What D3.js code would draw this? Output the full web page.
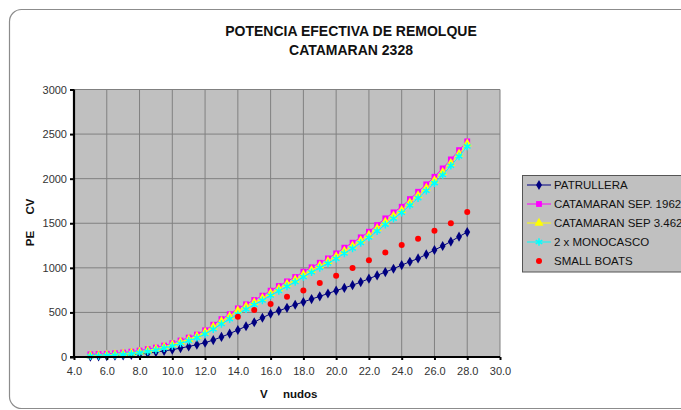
<!DOCTYPE html>
<html><head><meta charset="utf-8">
<script src="https://cdn.jsdelivr.net/npm/d3@7"></script>
<style>body{margin:0;background:#fff}svg{display:block;font-family:"Liberation Sans",Arial,sans-serif}</style>
</head><body><svg id="c" width="681" height="410"></svg>
<script>
const title1 = "POTENCIA EFECTIVA DE REMOLQUE";
const title2 = "CATAMARAN 2328";
const xTicks = [4,6,8,10,12,14,16,18,20,22,24,26,28,30];
const yTicks = [0,500,1000,1500,2000,2500,3000];
const speeds = [5,5.5,6,6.5,7,7.5,8,8.5,9,9.5,10,10.5,11,11.5,12,12.5,13,13.5,14,14.5,15,15.5,16,16.5,17,17.5,18,18.5,19,19.5,20,20.5,21,21.5,22,22.5,23,23.5,24,24.5,25,25.5,26,26.5,27,27.5,28];
const patrullera = [5,8,10,14,18,24,32,42,55,68,82,100,118,138,160,190,225,262,303,345,390,440,485,518,552,586,617,650,680,712,744,775,805,840,878,915,952,990,1031,1068,1105,1150,1200,1245,1295,1350,1401];
const catSep1962 = [30,33,36,42,50,60,72,88,106,128,155,185,218,252,300,362,425,480,546,591,639,688,744,796,848,897,957,1006,1057,1106,1162,1226,1282,1342,1405,1480,1555,1622,1685,1771,1853,1936,2021,2115,2216,2320,2418];
const catSep3462 = [15,18,22,28,35,45,57,72,90,112,138,167,198,232,278,338,400,455,520,566,612,660,715,766,818,866,924,974,1024,1073,1128,1190,1246,1305,1368,1442,1515,1582,1645,1730,1812,1894,1980,2072,2174,2278,2392];
const monocasco = [8,11,15,20,27,36,48,62,79,100,124,152,182,215,258,312,370,425,480,535,585,635,690,740,792,842,898,950,1000,1050,1102,1162,1218,1278,1340,1412,1485,1552,1618,1700,1782,1864,1950,2042,2144,2250,2362];
const sbSpeeds = [14,15,16,17,18,19,20,21,22,23,24,25,26,27,28];
const smallBoats = [452,527,594,676,747,829,911,998,1084,1173,1256,1327,1416,1499,1625];

const svg = d3.select("#c");
// chart frame
svg.append("rect").attr("x",9.5).attr("y",9.5).attr("width",700).attr("height",399).attr("rx",12)
  .attr("fill","#fff").attr("stroke","#8c8c8c").attr("stroke-width",1.2);

const X0=74, X1=500, Y0=357, Y1=89.5;
const x = d3.scaleLinear().domain([4,30]).range([X0,X1]);
const y = d3.scaleLinear().domain([0,3000]).range([Y0,Y1]);

svg.append("rect").attr("x",X0).attr("y",Y1).attr("width",X1-X0).attr("height",Y0-Y1).attr("fill","#c0c0c0");
const g = svg.append("g");
g.selectAll(".vg").data(xTicks.slice(1)).join("line")
  .attr("x1",d=>x(d)).attr("x2",d=>x(d)).attr("y1",Y1).attr("y2",Y0).attr("stroke","#808080").attr("stroke-width",1);
g.selectAll(".hg").data(yTicks.slice(1)).join("line")
  .attr("x1",X0).attr("x2",X1).attr("y1",d=>y(d)).attr("y2",d=>y(d)).attr("stroke","#808080").attr("stroke-width",1);

// axes
const yAxis = svg.append("g").attr("transform",`translate(${X0},0)`)
  .call(d3.axisLeft(y).tickValues(yTicks).tickSize(4).tickPadding(3).tickFormat(d3.format("d")));
const xAxis = svg.append("g").attr("transform",`translate(0,${Y0})`)
  .call(d3.axisBottom(x).tickValues(xTicks).tickSize(3).tickPadding(7).tickFormat(d3.format(".1f")));
[yAxis,xAxis].forEach(a=>{
  a.select(".domain").attr("stroke","#000").attr("stroke-width",2.2);
  a.selectAll(".tick line").attr("stroke","#000").attr("stroke-width",2);
  a.selectAll("text").attr("fill","#333").style("font-size","11px").style("font-family","'Liberation Sans',Arial,sans-serif");
});
yAxis.select(".domain").attr("d",`M0,${Y1}V${Y0}`);
xAxis.select(".domain").attr("d",`M${X0-4},0H${X1}`);

// titles
svg.append("text").attr("x",351).attr("y",36).attr("text-anchor","middle").attr("font-weight","bold").attr("font-size","14px").attr("fill","#111").text(title1);
svg.append("text").attr("x",351).attr("y",54.5).attr("text-anchor","middle").attr("font-weight","bold").attr("font-size","14px").attr("fill","#111").text(title2);
svg.append("text").attr("x",260).attr("y",398).attr("font-weight","bold").attr("font-size","11.5px").attr("fill","#111").text("V");
svg.append("text").attr("x",283).attr("y",398).attr("font-weight","bold").attr("font-size","11.5px").attr("fill","#111").text("nudos");
svg.append("text").attr("transform","translate(34,238.5) rotate(-90)").attr("text-anchor","middle").attr("font-weight","bold").attr("font-size","11.5px").attr("fill","#111").text("PE");
svg.append("text").attr("transform","translate(34,206.5) rotate(-90)").attr("text-anchor","middle").attr("font-weight","bold").attr("font-size","11.5px").attr("fill","#111").text("CV");

const series = [
  {name:"PATRULLERA", vals:patrullera, color:"#000080", sym:d3.symbolDiamond, size:30},
  {name:"CATAMARAN SEP. 1962", vals:catSep1962, color:"#ff00ff", sym:d3.symbolSquare, size:34},
  {name:"CATAMARAN SEP 3.462", vals:catSep3462, color:"#ffff00", sym:d3.symbolTriangle, size:36},
  {name:"2 x MONOCASCO", vals:monocasco, color:"#00ffff", sym:d3.symbolAsterisk, size:40},
];
const lineGen = d3.line().x(d=>x(d[0])).y(d=>y(d[1]));
series.forEach(s=>{
  const pts = speeds.map((v,i)=>[v,s.vals[i]]);
  g.append("path").datum(pts).attr("d",lineGen).attr("fill","none").attr("stroke",s.color).attr("stroke-width",1);
  g.selectAll(null).data(pts).join("path")
    .attr("transform",d=>`translate(${x(d[0])},${y(d[1])})`)
    .attr("d",d3.symbol(s.sym,s.size))
    .attr("fill",s.sym===d3.symbolAsterisk?"none":s.color)
    .attr("stroke",s.sym===d3.symbolAsterisk?s.color:"none").attr("stroke-width",1.5);
});
const sbPts = sbSpeeds.map((v,i)=>[v,smallBoats[i]]);
g.selectAll(null).data(sbPts).join("circle")
  .attr("cx",d=>x(d[0])).attr("cy",d=>y(d[1])).attr("r",3).attr("fill","#ff0000");

// legend
const L = svg.append("g");
L.append("rect").attr("x",522.5).attr("y",175.5).attr("width",200).attr("height",96.5).attr("fill","#c0c0c0").attr("stroke","#555").attr("stroke-width",1);
const legItems = series.concat([{name:"SMALL BOATS", color:"#ff0000", circle:true}]);
legItems.forEach((s,i)=>{
  const cy = 185 + i*19;
  const lg = L.append("g");
  if(!s.circle){
    lg.append("line").attr("x1",527).attr("x2",551).attr("y1",cy).attr("y2",cy).attr("stroke",s.color).attr("stroke-width",1);
    lg.append("path").attr("transform",`translate(539,${cy})`).attr("d",d3.symbol(s.sym,s.size))
      .attr("fill",s.sym===d3.symbolAsterisk?"none":s.color)
      .attr("stroke",s.sym===d3.symbolAsterisk?s.color:"none").attr("stroke-width",1.5);
  } else {
    lg.append("circle").attr("cx",539).attr("cy",cy).attr("r",3).attr("fill",s.color);
  }
  lg.append("text").attr("x",554).attr("y",cy+4).attr("font-size","11.5px").attr("fill","#111").text(s.name);
});
</script></body></html>
